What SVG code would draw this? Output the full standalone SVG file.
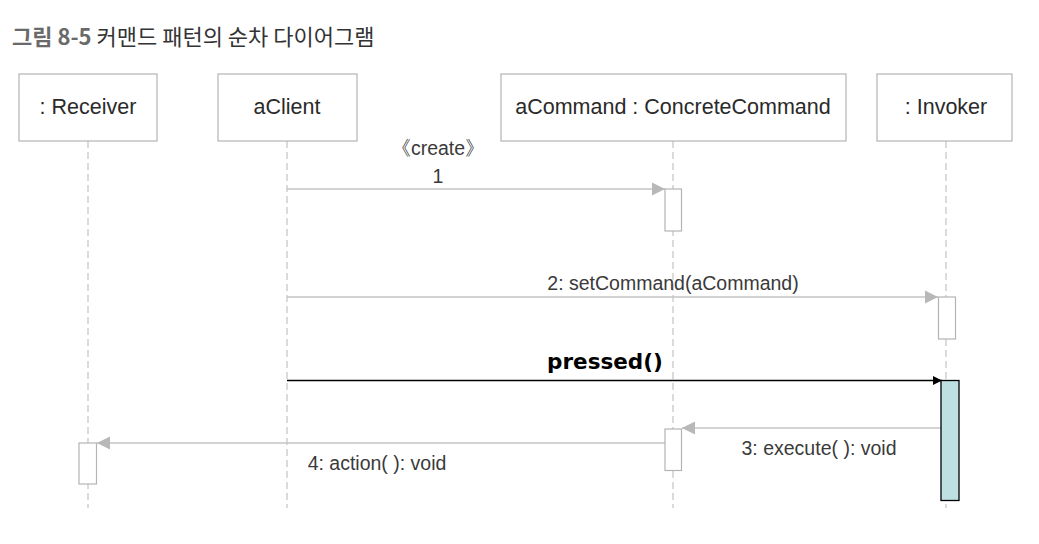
<svg xmlns="http://www.w3.org/2000/svg" width="1039" height="544" viewBox="0 0 1039 544">
<defs>
<style>
.box{fill:#fff;stroke:#b4b4b4;stroke-width:1.2}
.act{fill:#fff;stroke:#b4b4b4;stroke-width:1.2}
.life{stroke:#c4c4c4;stroke-width:1.2;stroke-dasharray:7 4;fill:none}
.msg{stroke:#c4c4c4;stroke-width:1.5;fill:none}
.hd{font-family:"Liberation Sans",Arial,sans-serif;font-size:21.5px;fill:#2a2a2a;text-anchor:middle}
.lbl{font-family:"Liberation Sans",Arial,sans-serif;font-size:19.5px;fill:#3a3a3a;text-anchor:middle}
</style>
<marker id="ag" markerUnits="userSpaceOnUse" markerWidth="14" markerHeight="14" refX="13" refY="7" orient="auto">
<path d="M0,0.5 L13,7 L0,13.5 Z" fill="#b8b8b8"/>
</marker>
<marker id="ab" markerUnits="userSpaceOnUse" markerWidth="10" markerHeight="10" refX="9" refY="5" orient="auto">
<path d="M0,0.5 L9,5 L0,9.5 Z" fill="#000"/>
</marker>
</defs>
<rect width="1039" height="544" fill="#fff"/>
<text x="12" y="45" font-family="'Noto Sans CJK KR',sans-serif" font-size="22" fill="#333"><tspan font-weight="bold" fill="#6a6a6a">그림 8-5</tspan> 커맨드 패턴의 순차 다이어그램</text>

<g id="receiver">
<line class="life" x1="88" y1="141" x2="88" y2="508"/>
<rect class="box" x="19" y="74" width="138" height="67"/>
<text class="hd" x="88" y="114">: Receiver</text>
</g>
<g id="aClient">
<line class="life" x1="287" y1="141" x2="287" y2="508"/>
<rect class="box" x="218" y="74" width="139" height="67"/>
<text class="hd" x="287" y="114">aClient</text>
</g>
<g id="aCommand">
<line class="life" x1="673" y1="141" x2="673" y2="508"/>
<rect class="box" x="501" y="74" width="345" height="67"/>
<text class="hd" x="673" y="114">aCommand : ConcreteCommand</text>
</g>
<g id="invoker">
<line class="life" x1="946" y1="141" x2="946" y2="508"/>
<rect class="box" x="877" y="74" width="135" height="67"/>
<text class="hd" x="946" y="114">: Invoker</text>
</g>

<g id="connectors">
<line class="msg" x1="287" y1="189" x2="665" y2="189" marker-end="url(#ag)"/>
<line class="msg" x1="287" y1="297" x2="938" y2="297" marker-end="url(#ag)"/>
<line x1="287" y1="380.5" x2="942" y2="380.5" stroke="#000" stroke-width="1.3" marker-end="url(#ab)"/>
<line class="msg" x1="941" y1="428" x2="682" y2="428" marker-end="url(#ag)"/>
<line class="msg" x1="665" y1="443" x2="97" y2="443" marker-end="url(#ag)"/>
<text class="lbl" x="438" y="155">《create》</text>
<text class="lbl" x="438" y="183">1</text>
<text class="lbl" x="673" y="290">2: setCommand(aCommand)</text>
<text x="605" y="369" font-family="'DejaVu Sans',Verdana,sans-serif" font-weight="bold" font-size="21.5" fill="#000" text-anchor="middle">pressed()</text>
<text class="lbl" x="819" y="455">3: execute( ): void</text>
<text class="lbl" x="377" y="470">4: action( ): void</text>
</g>

<g id="activations">
<rect class="act" x="665" y="189" width="16.5" height="42"/>
<rect class="act" x="938.5" y="297" width="17" height="42"/>
<rect x="941" y="380.5" width="18" height="120" fill="#bde0e3" stroke="#000" stroke-width="1.3"/>
<rect class="act" x="665" y="429" width="16.5" height="41.5"/>
<rect class="act" x="79" y="443" width="17.5" height="41"/>
</g>
</svg>
